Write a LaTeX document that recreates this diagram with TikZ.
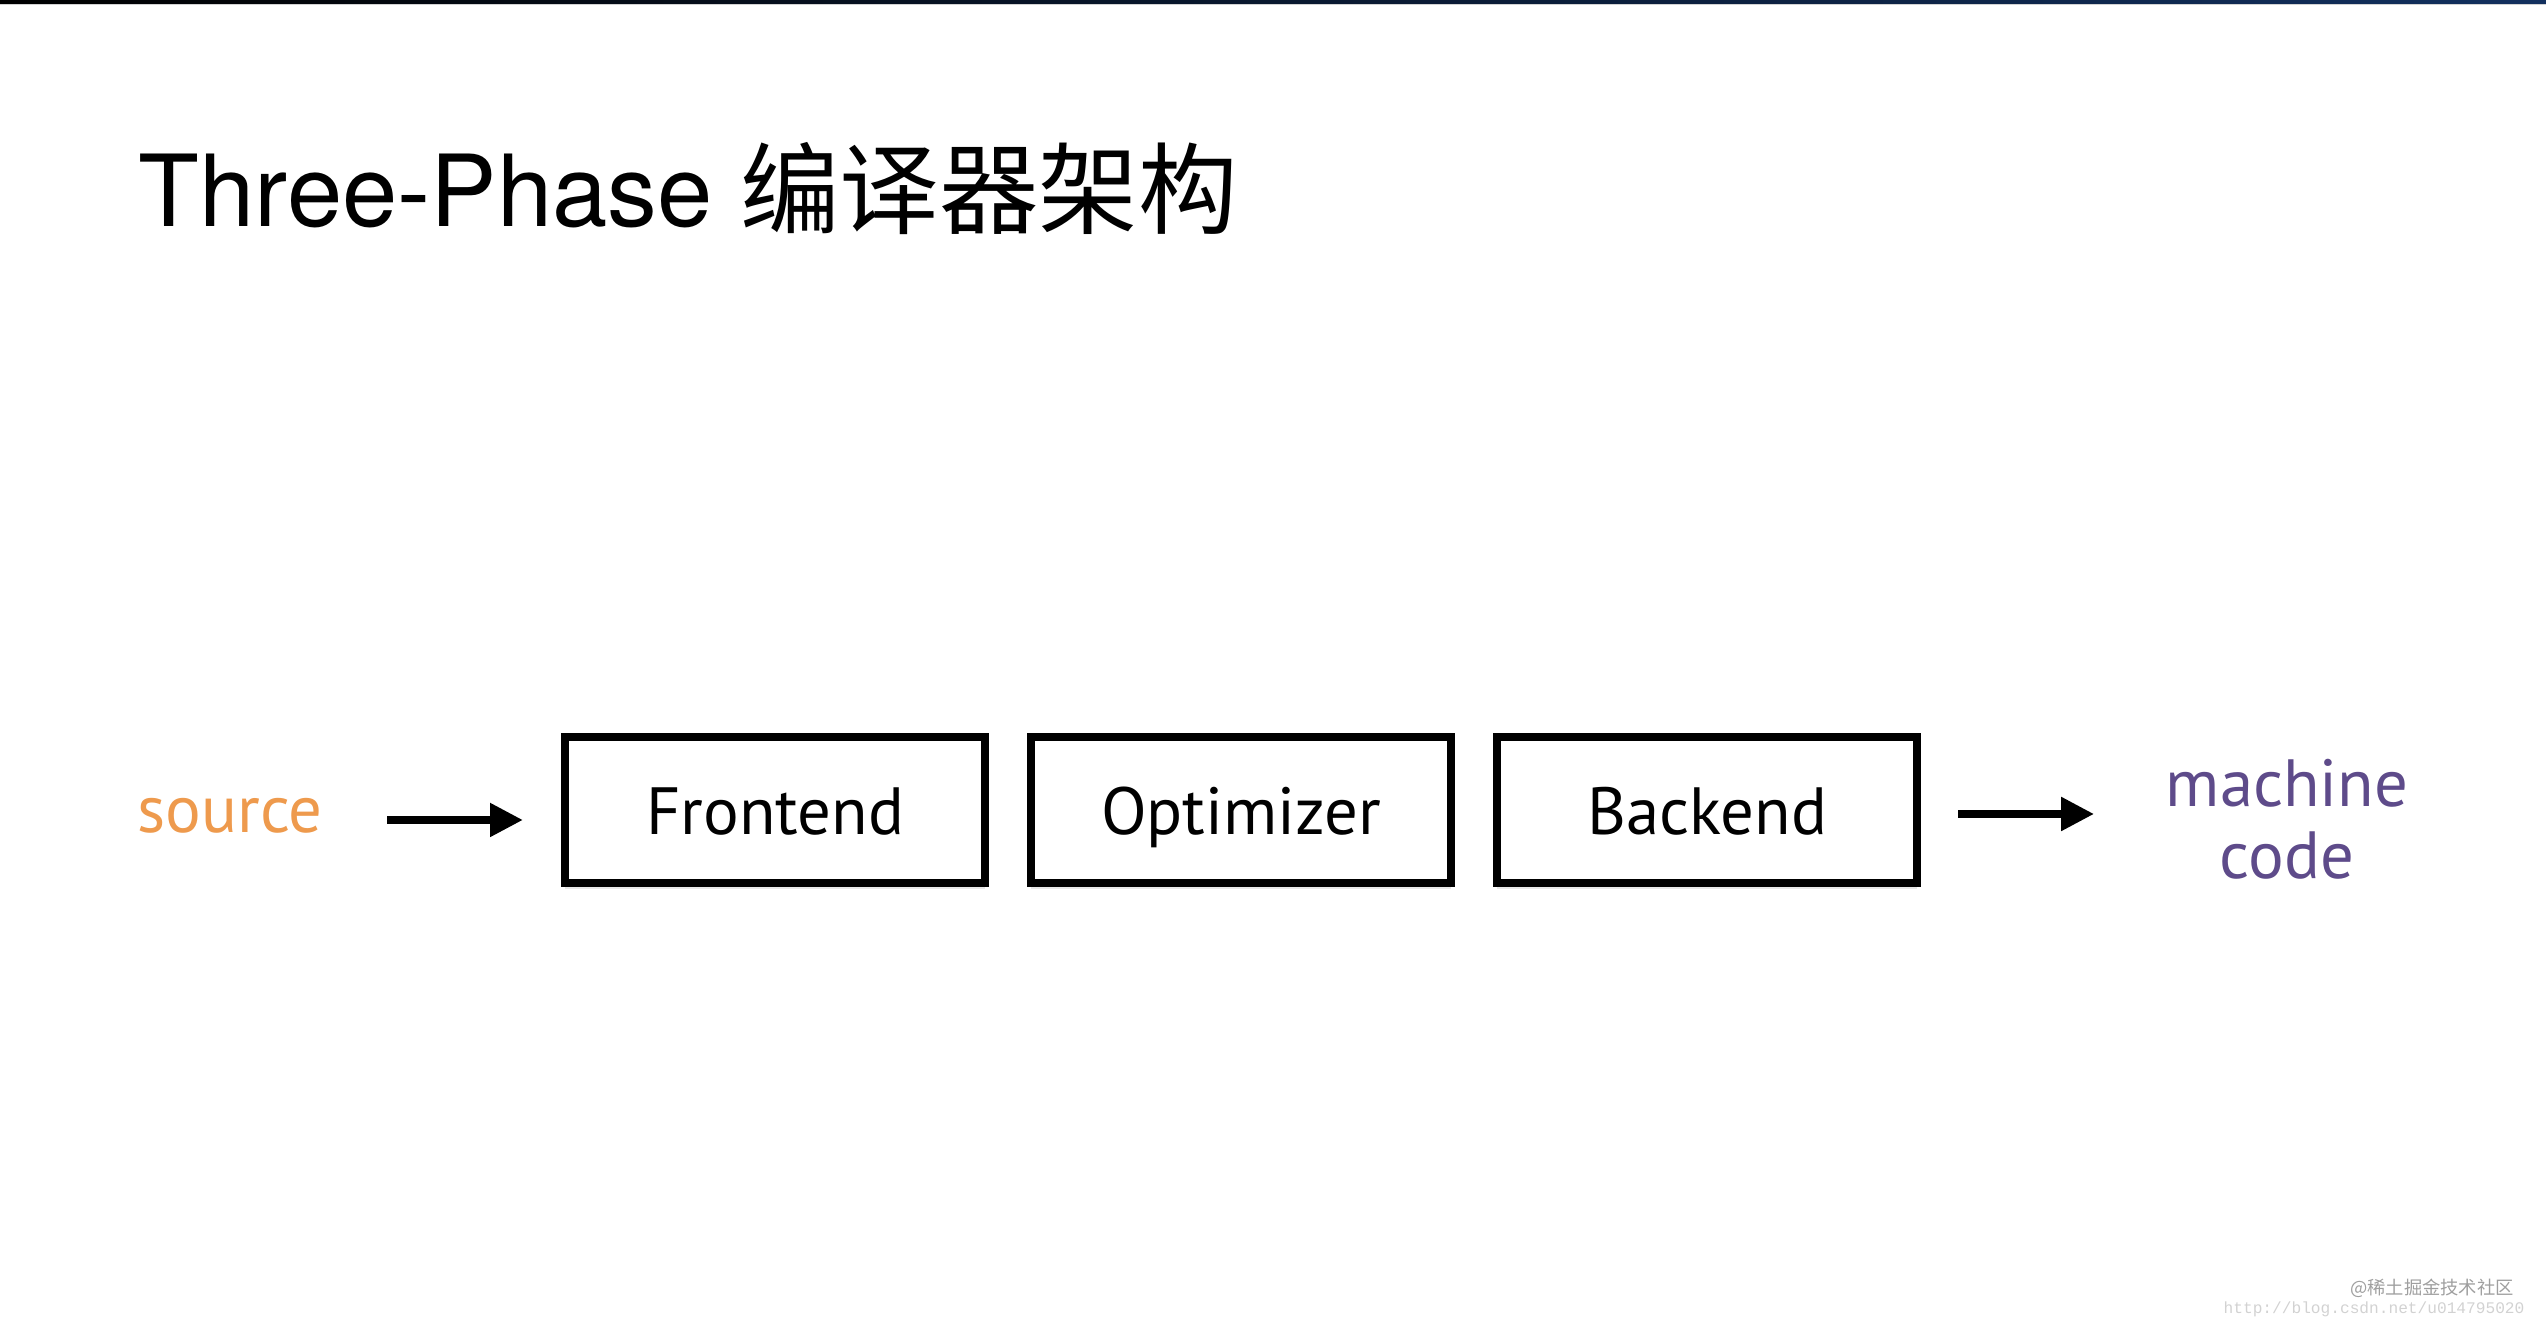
\documentclass[tikz,border=0pt]{standalone}
\usepackage{fontspec}
\setmainfont{PT Sans}
\newfontfamily\headfont{TeX Gyre Heros}
\newfontfamily\cjk{Noto Sans CJK SC}
\newfontfamily\wmfont{Liberation Mono}
\usepackage{tikz}
\usetikzlibrary{positioning,calc,shadows,arrows.meta}
\definecolor{srcorange}{HTML}{EE9A4D}
\definecolor{mcpurple}{HTML}{5E4B8A}
\definecolor{barnavy}{HTML}{12305E}

\begin{document}
\begin{tikzpicture}[x=1cm, y=1cm,
    phase/.style={draw, line width=0.8mm, fill=white, minimum width=4.2cm, minimum height=1.46cm,
        inner sep=0pt, text height=13.7pt, text depth=0pt, font=\fontsize{19}{22}\selectfont,
        drop shadow={shadow xshift=0pt, shadow yshift=-0.6mm, opacity=0.18}},
    flow/.style={line width=0.8mm, -{Triangle[length=3.3mm, width=3.2mm]}}]
    \useasboundingbox (0,0) rectangle (25.46,13.34);

    % Top bar
    \shade[left color=black, right color=barnavy] (0,13.30) rectangle (25.46,13.34);
    \fill[gray!35] (0,13.29) rectangle (25.46,13.30);

    % Title
    \node[anchor=base west, inner sep=0pt, font=\headfont\fontsize{28.3}{34}\selectfont] (title) at (1.38,11.07)
        {Three-Phase {\cjk 编译器架构}};

    % Phases
    \node[phase] (front) at (7.75,5.24) {Frontend};
    \node[phase, right=0.38cm of front] (opt) {Optimizer};
    \node[phase, right=0.38cm of opt] (back) {Backend};

    % Input and output
    \node[inner sep=0pt, text height=7.4pt, text depth=0pt, text=srcorange, font=\fontsize{19}{22}\selectfont] (source) at (2.30,5.14) {source};
    \node[inner sep=0pt, align=center, text=mcpurple, font=\fontsize{19}{20.5}\selectfont] (mc) at (22.87,5.15) {machine\\code};

    \draw[flow, shorten <=0.64cm, shorten >=0.38cm] (source.east) -- (source.east -| front.west);
    \draw[flow, shorten <=0.37cm, shorten >=0.71cm] ([yshift=-0.4mm]back.east) -- ([yshift=-0.4mm]back.east -| mc.west);

    % Watermark
    \node[font=\cjk\fontsize{5.2}{6}\selectfont, text=gray!75] (wm) at (24.32,0.46) {@稀土掘金技术社区};
    \node[font=\wmfont\fontsize{4.6}{5}\selectfont, text=gray!35] (url) at (23.74,0.25) {http://blog.csdn.net/u014795020};
\end{tikzpicture}
\end{document}
